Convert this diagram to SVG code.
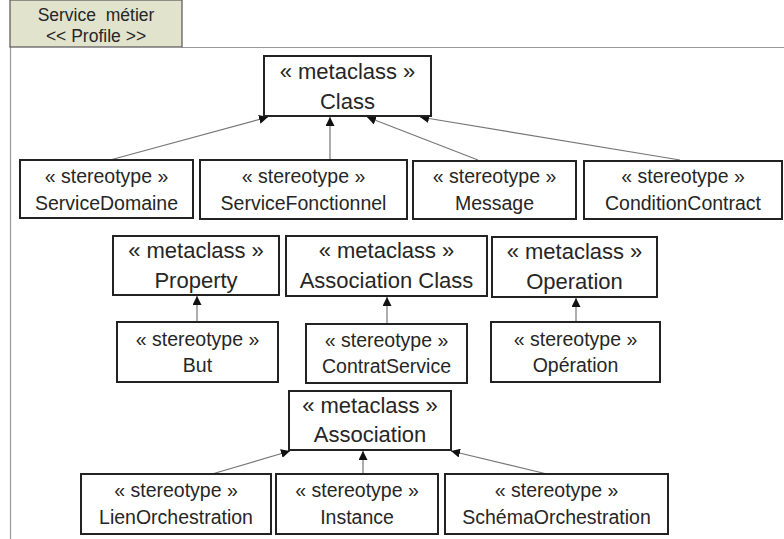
<svg xmlns="http://www.w3.org/2000/svg" width="784" height="539" viewBox="0 0 784 539">
<defs>
<style>
.box{fill:#fff;stroke:#222;stroke-width:2}
.t{font-family:"Liberation Sans",Arial,sans-serif;fill:#262626;text-anchor:middle}
.m{font-size:22px}
.s{font-size:19.5px}
.c{stroke:#777;stroke-width:1.2;fill:none;marker-end:url(#ah)}
.frame{stroke:#999;stroke-width:1.2;fill:none}
</style>
<marker id="ah" viewBox="0 0 10 10" refX="10" refY="5" markerWidth="9" markerHeight="9" markerUnits="userSpaceOnUse" orient="auto">
<path d="M0,0 L10,5 L0,10 z" fill="#111"/>
</marker>
</defs>
<rect width="784" height="539" fill="#fff"/>
<g id="frame">
<path class="frame" d="M182,47.5 H784 M10.5,47 V539"/>
<rect x="10" y="0" width="172" height="47" fill="#e2e3cd" stroke="#555" stroke-width="1.2"/>
<text class="t" x="96" y="21" font-size="17.5" xml:space="preserve">Service  métier</text>
<text class="t" x="96" y="42" font-size="17.5">&lt;&lt; Profile &gt;&gt;</text>
</g>
<g id="connectors">
<line class="c" x1="110" y1="160" x2="268" y2="117"/>
<line class="c" x1="330" y1="160" x2="330" y2="117"/>
<line class="c" x1="478" y1="160" x2="367" y2="117"/>
<line class="c" x1="680" y1="160" x2="420" y2="117"/>
<line class="c" x1="197" y1="322" x2="197" y2="296"/>
<line class="c" x1="387" y1="324" x2="387" y2="297"/>
<line class="c" x1="576" y1="322" x2="576" y2="298"/>
<line class="c" x1="212" y1="474" x2="290" y2="451"/>
<line class="c" x1="363" y1="474" x2="363" y2="451"/>
<line class="c" x1="547" y1="474" x2="451" y2="451"/>
</g>
<g id="Class">
<rect class="box" x="264" y="56" width="167" height="60"/>
<text class="t m" x="347.5" y="79">« metaclass »</text>
<text class="t m" x="347.5" y="109">Class</text>
</g>
<g id="ServiceDomaine">
<rect class="box" x="20" y="160" width="173" height="58"/>
<text class="t s" x="106.5" y="183">« stereotype »</text>
<text class="t s" x="106.5" y="210">ServiceDomaine</text>
</g>
<g id="ServiceFonctionnel">
<rect class="box" x="200" y="160" width="207" height="59"/>
<text class="t s" x="303.5" y="183">« stereotype »</text>
<text class="t s" x="303.5" y="210">ServiceFonctionnel</text>
</g>
<g id="Message">
<rect class="box" x="413" y="161" width="163" height="58"/>
<text class="t s" x="494.5" y="183">« stereotype »</text>
<text class="t s" x="494.5" y="210">Message</text>
</g>
<g id="ConditionContract">
<rect class="box" x="584" y="161" width="198" height="58"/>
<text class="t s" x="683" y="183">« stereotype »</text>
<text class="t s" x="683" y="210">ConditionContract</text>
</g>
<g id="Property">
<rect class="box" x="113" y="236" width="166" height="59"/>
<text class="t m" x="196" y="258">« metaclass »</text>
<text class="t m" x="196" y="288">Property</text>
</g>
<g id="AssociationClass">
<rect class="box" x="286" y="236" width="201" height="60"/>
<text class="t m" x="386.5" y="258">« metaclass »</text>
<text class="t m" x="386.5" y="288">Association Class</text>
</g>
<g id="Operation">
<rect class="box" x="492" y="237" width="165" height="60"/>
<text class="t m" x="574.5" y="259">« metaclass »</text>
<text class="t m" x="574.5" y="289">Operation</text>
</g>
<g id="But">
<rect class="box" x="117" y="322" width="161" height="60"/>
<text class="t s" x="197.5" y="346">« stereotype »</text>
<text class="t s" x="197.5" y="372">But</text>
</g>
<g id="ContratService">
<rect class="box" x="306" y="324" width="161" height="59"/>
<text class="t s" x="386.5" y="347">« stereotype »</text>
<text class="t s" x="386.5" y="373">ContratService</text>
</g>
<g id="OperationStereotype">
<rect class="box" x="491" y="322" width="169" height="60"/>
<text class="t s" x="575.5" y="346">« stereotype »</text>
<text class="t s" x="575.5" y="372">Opération</text>
</g>
<g id="Association">
<rect class="box" x="289" y="391" width="162" height="59"/>
<text class="t m" x="370" y="413">« metaclass »</text>
<text class="t m" x="370" y="442">Association</text>
</g>
<g id="LienOrchestration">
<rect class="box" x="81" y="474" width="190" height="60"/>
<text class="t s" x="176" y="497">« stereotype »</text>
<text class="t s" x="176" y="524">LienOrchestration</text>
</g>
<g id="Instance">
<rect class="box" x="276" y="474" width="162" height="60"/>
<text class="t s" x="357" y="497">« stereotype »</text>
<text class="t s" x="357" y="524">Instance</text>
</g>
<g id="SchemaOrchestration">
<rect class="box" x="445" y="474" width="223" height="60"/>
<text class="t s" x="556.5" y="497">« stereotype »</text>
<text class="t s" x="556.5" y="524">SchémaOrchestration</text>
</g>
</svg>
